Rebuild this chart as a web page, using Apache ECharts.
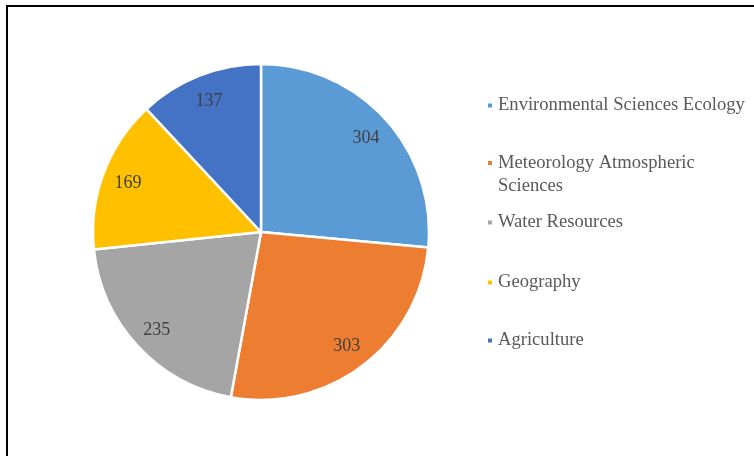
<!DOCTYPE html>
<html>
<head>
<meta charset="utf-8">
<script src="https://cdn.jsdelivr.net/npm/echarts@6/dist/echarts.min.js"></script>
<style>
html,body{margin:0;padding:0;background:#fff;}
#frame{position:absolute;left:6px;top:5px;width:760px;height:470px;border:2px solid #000;box-sizing:border-box;}
#chart{position:absolute;left:0;top:0;width:754px;height:456px;}
</style>
</head>
<body>
<div id="frame"></div>
<div id="chart"></div>
<script>
const categories = ['Environmental Sciences Ecology', 'Meteorology Atmospheric Sciences', 'Water Resources', 'Geography', 'Agriculture'];
const values = [304, 303, 235, 169, 137];
const colors = ['#5B9BD5', '#ED7D31', '#A5A5A5', '#FFC000', '#4472C4'];
const legendTops = [94, 128.5, 211, 271, 329];

const chart = echarts.init(document.getElementById('chart'), null, {renderer: 'canvas'});
const data = categories.map((c, i) => ({name: c, value: values[i], itemStyle: {color: colors[i]}}));
const font = 'Liberation Serif';

const legends = categories.map((c, i) => ({
  data: [c],
  orient: 'vertical',
  left: 486,
  top: legendTops[i],
  padding: 0,
  icon: 'rect',
  itemWidth: 6,
  itemHeight: 6,
  selectedMode: false,
  formatter: (n) => n === 'Meteorology Atmospheric Sciences' ? '\u00a0\nMeteorology Atmospheric\nSciences' : n,
  textStyle: {fontFamily: font, fontSize: 18.6, color: '#595959', lineHeight: 23}
}));

chart.setOption({
  animation: false,
  legend: legends,
  series: [
    {
      type: 'pie',
      center: [261, 232],
      radius: [0, 168],
      startAngle: 90,
      clockwise: true,
      data: data,
      label: {show: false},
      labelLine: {show: false},
      itemStyle: {borderColor: '#fff', borderWidth: 2.5},
      emphasis: {disabled: true}
    },
    {
      type: 'pie',
      center: [261, 232],
      radius: [110, 168],
      startAngle: 90,
      clockwise: true,
      silent: true,
      data: data.map(d => ({name: d.name, value: d.value, itemStyle: {color: 'rgba(0,0,0,0)'}})),
      label: {show: true, position: 'inside', formatter: '{c}', fontFamily: font, fontSize: 18, color: '#404040', offset: [0, 1.5]},
      labelLine: {show: false},
      itemStyle: {borderWidth: 0},
      emphasis: {disabled: true}
    }
  ]
});
</script>
</body>
</html>
